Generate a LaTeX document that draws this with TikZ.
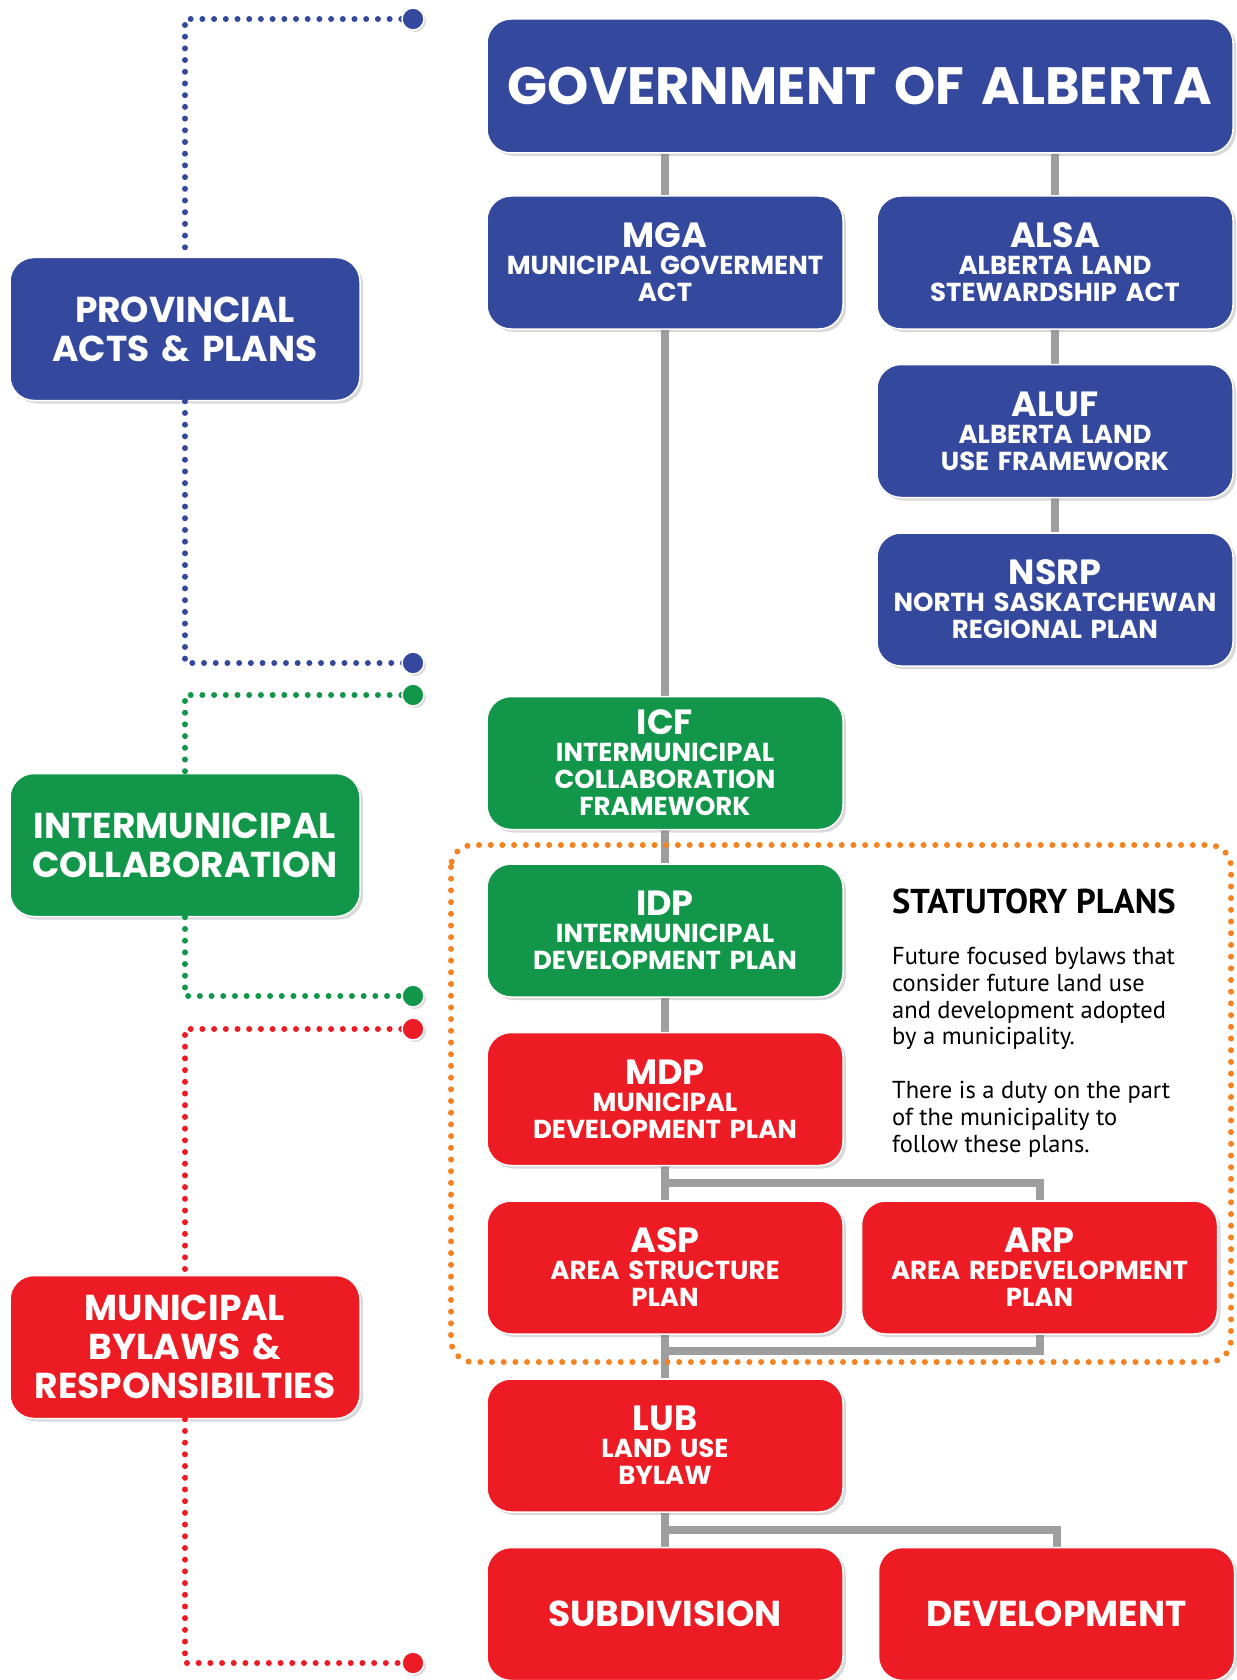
\documentclass[tikz,border=0pt]{standalone}
\usepackage{fontspec}
\setmainfont{Poppins}
\newfontfamily\bodyfont{PT Sans}
\usetikzlibrary{positioning,shadows,backgrounds}

\definecolor{abblue}{RGB}{52,73,158}
\definecolor{abgreen}{RGB}{17,150,74}
\definecolor{abred}{RGB}{237,28,36}
\definecolor{aborange}{RGB}{245,130,32}
\definecolor{abgray}{RGB}{158,158,158}

\newcommand{\acro}{\fontsize{35}{38}\selectfont}
\newcommand{\subline}{\fontsize{26}{27}\selectfont\spaceskip=0.22em\relax}
\newcommand{\govfont}{\bfseries\fontsize{52.5}{58}\selectfont\spaceskip=0.2em\relax}
\newcommand{\legendfont}{\bfseries\fontsize{36}{39}\selectfont\spaceskip=0.22em\relax}

\tikzset{
  planbox/.style={rectangle, rounded corners=24pt, draw=white, line width=1.5pt,
    text=white, align=center, text width=344pt, minimum width=356pt, minimum height=133pt,
    inner sep=0pt, font=\bfseries\subline,
    drop shadow={opacity=0.3, shadow xshift=3pt, shadow yshift=-3pt}},
  bluebox/.style={planbox, fill=abblue},
  greenbox/.style={planbox, fill=abgreen},
  redbox/.style={planbox, fill=abred},
  bigbox/.style={font=\bfseries\fontsize{36}{40}\selectfont},
  legendbox/.style={planbox, text width=340pt, minimum width=350pt, minimum height=143pt,
    font=\legendfont},
  link/.style={abgray, line width=8pt},
  dotline/.style={line width=6pt, line cap=round, dash pattern=on 0pt off 11.7pt},
  enddot/.style={circle, minimum size=22pt, inner sep=0pt, draw=white, line width=1.5pt,
    drop shadow={opacity=0.3, shadow xshift=2pt, shadow yshift=-2pt}}
}

\begin{document}
\begin{tikzpicture}[x=1pt, y=-1pt, node distance=34pt]
\useasboundingbox (0,0) rectangle (1236,1680);

% provincial level
\node[bluebox, text width=740pt, minimum width=746pt, minimum height=134pt, font=\govfont] (gov) at (860,86) {GOVERNMENT OF ALBERTA};
\node[bluebox] (mga) at (665,262.5) {{\acro MGA}\\MUNICIPAL GOVERMENT\\ACT};
\node[bluebox] (alsa) at (1055,262.5) {{\acro ALSA}\\ALBERTA LAND\\STEWARDSHIP ACT};
\node[bluebox] (aluf) [below=of alsa] {{\acro ALUF}\\ALBERTA LAND\\USE FRAMEWORK};
\node[bluebox] (nsrp) [below=of aluf] {{\acro NSRP}\\NORTH SASKATCHEWAN\\REGIONAL PLAN};

% intermunicipal level
\node[greenbox] (icf) at (665,763) {{\acro ICF}\\INTERMUNICIPAL\\COLLABORATION\\FRAMEWORK};
\node[greenbox] (idp) [below=33pt of icf] {{\acro IDP}\\INTERMUNICIPAL\\DEVELOPMENT PLAN};

% municipal level
\node[redbox] (mdp) [below=of idp] {{\acro MDP}\\MUNICIPAL\\DEVELOPMENT PLAN};
\node[redbox] (asp) [below=of mdp] {{\acro ASP}\\AREA STRUCTURE\\PLAN};
\node[redbox] (arp) [right=17pt of asp] {{\acro ARP}\\AREA REDEVELOPMENT\\PLAN};
\node[redbox] (lub) [below=43.5pt of asp] {{\acro LUB}\\LAND USE\\BYLAW};
\node[redbox, bigbox] (subdiv) [below=of lub] {SUBDIVISION};
\node[redbox, bigbox] (devel) [right=of subdiv] {DEVELOPMENT};

% legend boxes
\node[legendbox, fill=abblue] (prov) at (185,329) {PROVINCIAL\\ACTS \& PLANS};
\node[legendbox, fill=abgreen] (inter) at (185,845) {INTERMUNICIPAL\\COLLABORATION};
\node[legendbox, fill=abred] (muni) at (185,1347) {MUNICIPAL\\BYLAWS \&\\RESPONSIBILTIES};

% gray links
\begin{scope}[on background layer]
\draw[link] (gov.south -| mga) -- (mga);
\draw[link] (gov.south -| alsa) -- (alsa);
\draw[link] (alsa) -- (aluf);
\draw[link] (aluf) -- (nsrp);
\draw[link] (mga) -- (icf);
\draw[link] (icf) -- (idp);
\draw[link] (idp) -- (mdp);
\draw[link] (mdp) -- (asp);
\draw[link] (mdp.south) -- ++(0,17) -| (arp.north);
\draw[link] (asp) -- (lub);
\draw[link] (arp.south) |- ([yshift=-16pt]asp.south);
\draw[link] (lub) -- (subdiv);
\draw[link] (lub.south) -- ++(0,17) -| (devel.north);
\end{scope}

% statutory plans frame
\draw[aborange, dotline, rounded corners=22pt] (451,845) rectangle (1231,1362);
\node[anchor=west, inner sep=0pt, font=\bodyfont\bfseries\fontsize{34.5}{37}\selectfont] (stattitle) at (892,901) {STATUTORY PLANS};
\node[anchor=north west, align=left, inner sep=0pt, font=\bodyfont\fontsize{24.5}{26.8}\selectfont] (stattext) at (892,947) {Future focused bylaws that\\consider future land use\\and development adopted\\by a municipality.\\[26.8pt]There is a duty on the part\\of the municipality to\\follow these plans.};

% legend dots
\draw[abblue, dotline] (413,19) coordinate (provtop) -| (prov);
\draw[abblue, dotline] (prov) |- (413,663) coordinate (provend);
\draw[abgreen, dotline] (413,695) coordinate (intertop) -| (inter);
\draw[abgreen, dotline] (inter) |- (413,996) coordinate (interend);
\draw[abred, dotline] (413,1029) coordinate (munitop) -| (muni);
\draw[abred, dotline] (muni) |- (413,1663) coordinate (muniend);
\foreach \c/\p in {abblue/provtop, abblue/provend, abgreen/intertop, abgreen/interend, abred/munitop, abred/muniend}
  \node[enddot, fill=\c] (\p dot) at (\p) {};

\end{tikzpicture}
\end{document}
